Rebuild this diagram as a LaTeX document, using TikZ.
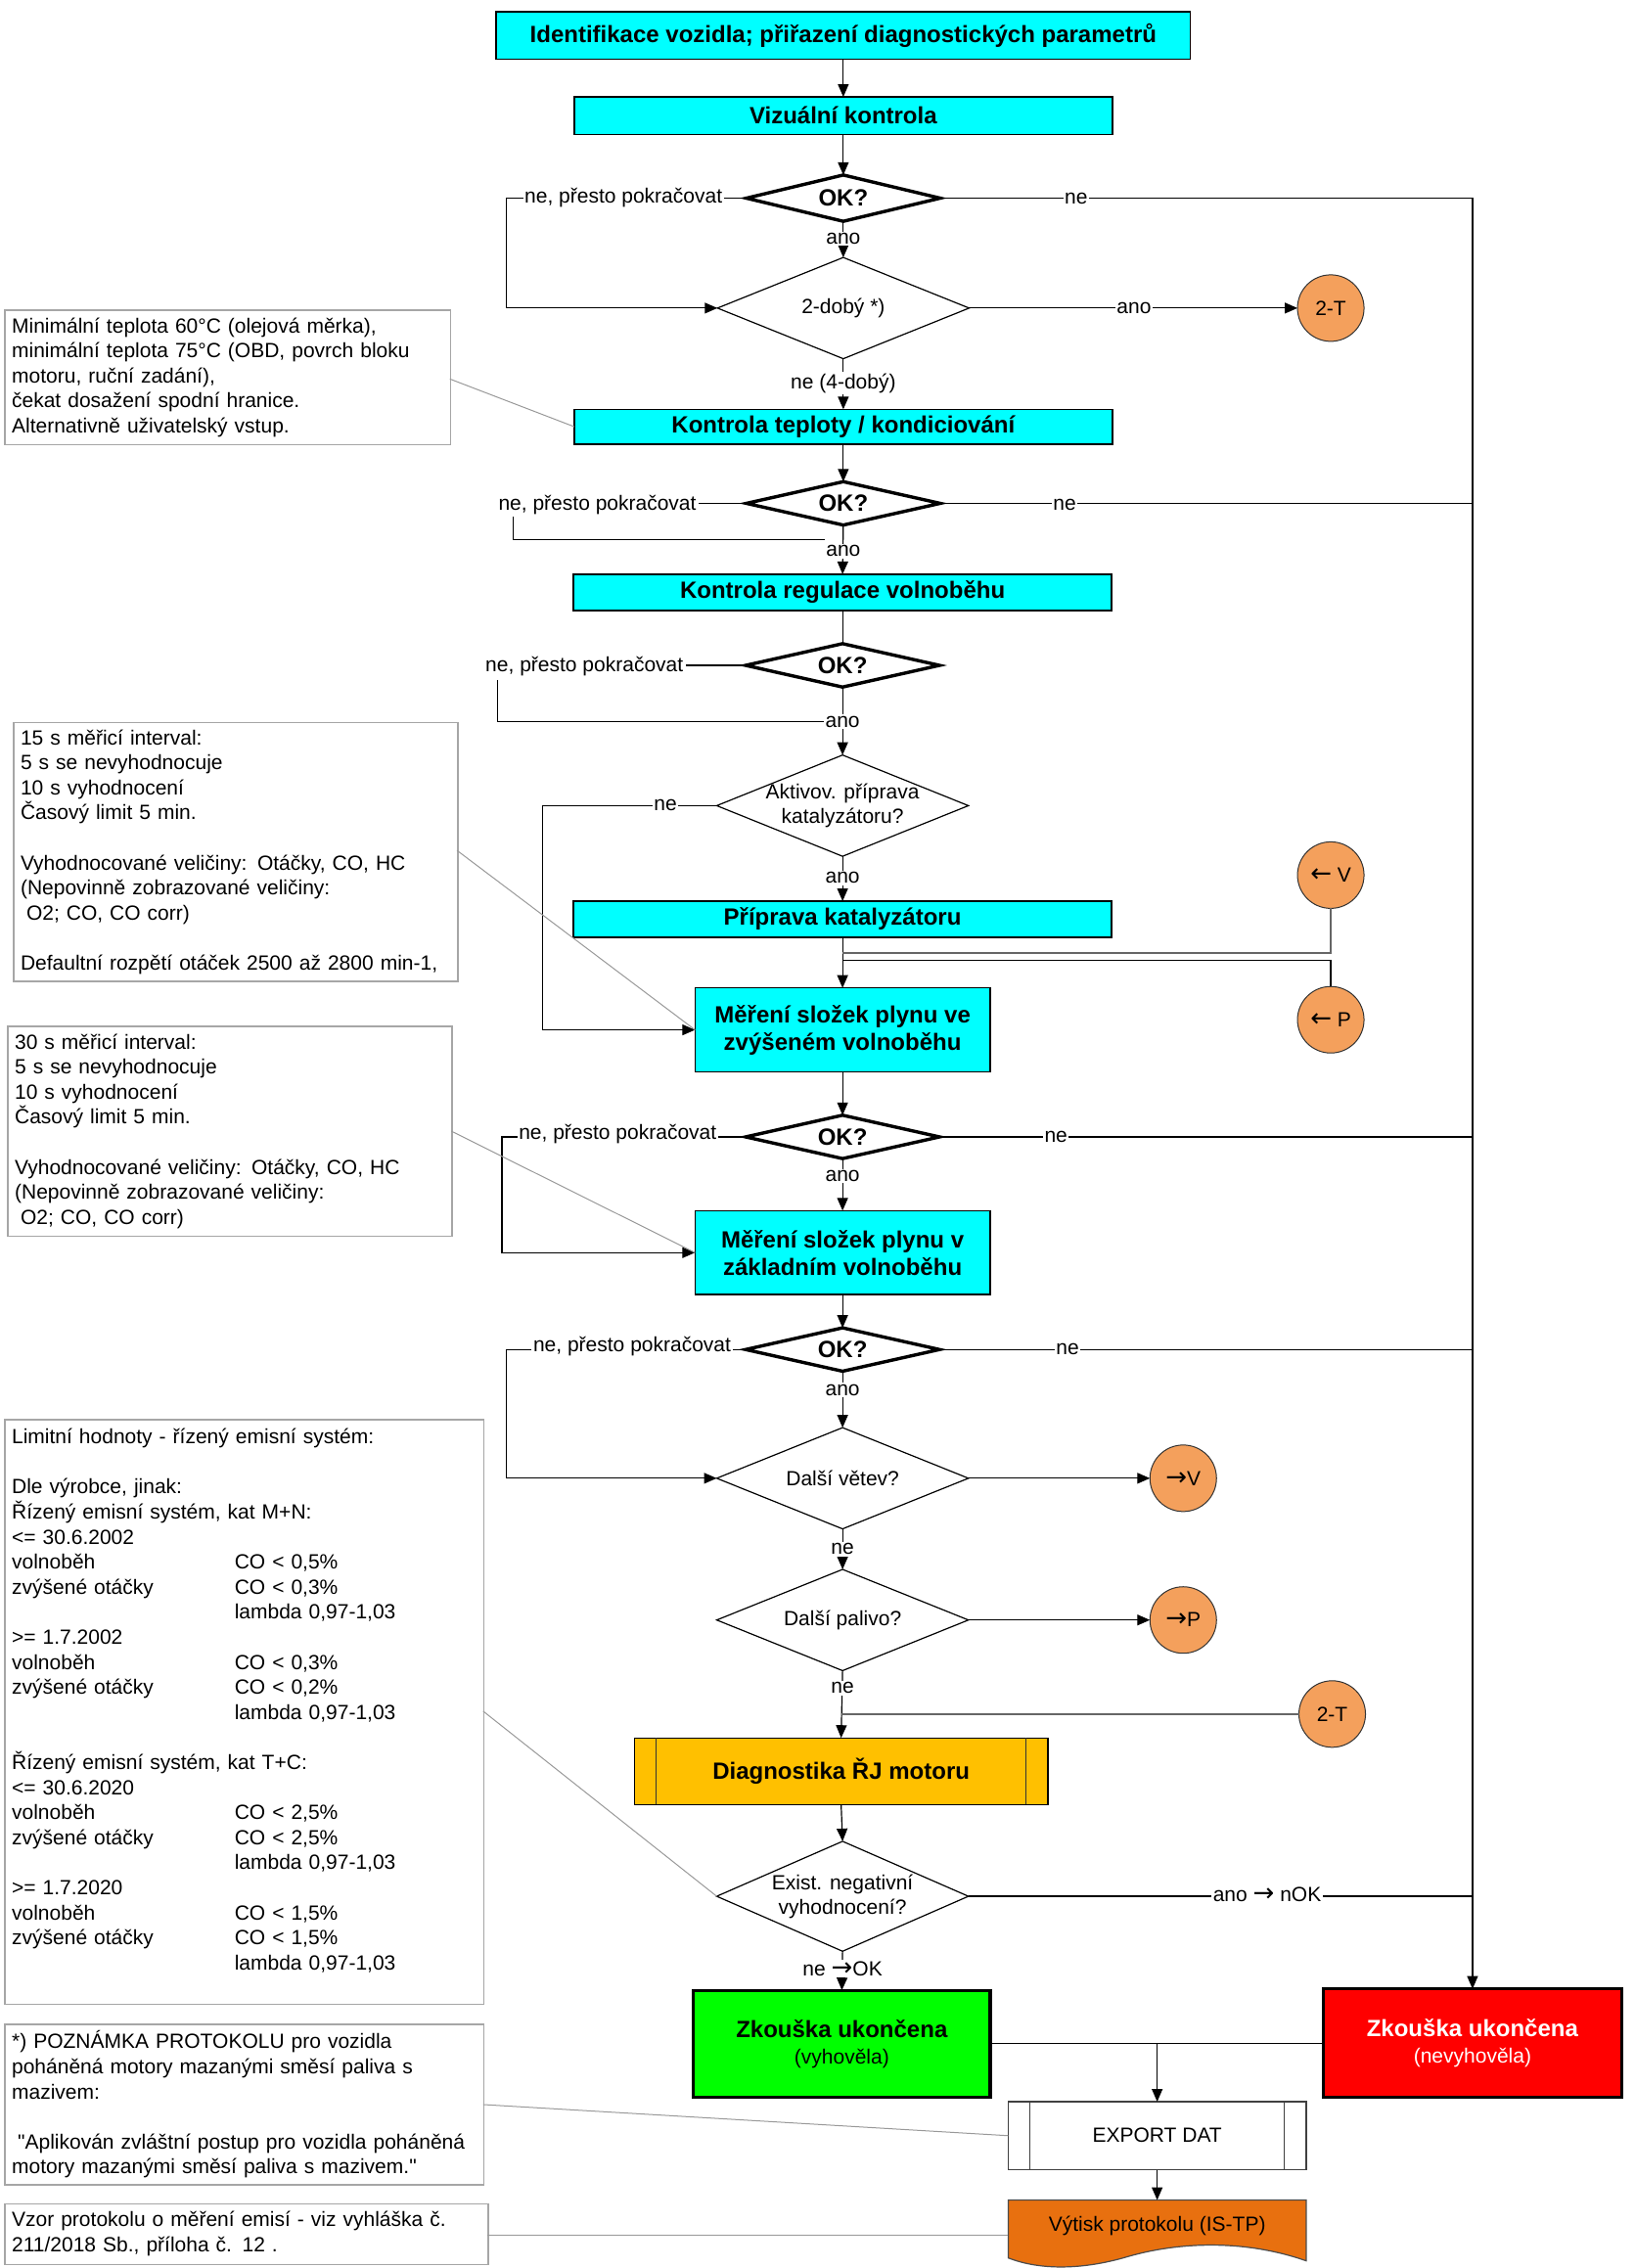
\documentclass[tikz,border=0pt]{standalone}
\usepackage{fontspec}
\setmainfont{Liberation Sans}[Ligatures=TeXOff]
\newfontfamily\arrfont{DejaVu Sans}
\newcommand{\ra}{{\arrfont\fontsize{13}{13}\selectfont →}}
\newcommand{\la}{{\arrfont\fontsize{13}{13}\selectfont ←}}
\usetikzlibrary{shapes.geometric,arrows.meta,calc}
\definecolor{cyanbox}{HTML}{00FFFF}
\definecolor{circ}{HTML}{F4A05C}
\definecolor{goldbox}{HTML}{FFC000}
\definecolor{prt}{HTML}{E8700F}
\definecolor{grbox}{HTML}{00FF00}
\definecolor{rdbox}{HTML}{FF0000}
\newcommand{\tabcol}[1]{\makebox[113.8pt][l]{#1}}
\begin{document}
\begin{tikzpicture}[x=0.739pt,y=-0.739pt,
 wh/.style 2 args={minimum width=#1*0.739pt,minimum height=#2*0.739pt},
 base/.style={inner sep=0pt,outer sep=0pt},
 proc/.style={base,rectangle,draw=black,line width=0.7pt,fill=cyanbox,font=\fontsize{12}{14}\selectfont\bfseries,align=center},
 dec/.style={base,diamond,draw=black,line width=0.6pt,fill=white},
 dtxt/.style={inner sep=0pt,align=center,font=\fontsize{10.5}{12.6}\selectfont},
 okd/.style={base,diamond,aspect=4.4,draw=black,line width=1.7pt,fill=white,font=\fontsize{12}{14}\selectfont\bfseries},
 conn/.style={base,circle,draw=black!80,line width=0.5pt,fill=circ,minimum size=46*0.739pt,font=\fontsize{10.5}{12}\selectfont},
 endbox/.style={base,rectangle,draw=black,line width=1.6pt,align=center,font=\fontsize{12}{13.5}\selectfont},
 lbl/.style={inner sep=0.8pt,fill=white,font=\fontsize{10.5}{12}\selectfont},
 note/.style 2 args={rectangle,draw=black!35,line width=0.7pt,fill=white,align=left,inner xsep=3.5pt,inner ysep=0pt,anchor=north west,text width=#1,minimum height=#2,font=\fontsize{10.5}{12.8}\selectfont},
 ln/.style={line width=0.6pt,draw=black},
 arr/.style={ln,-{Triangle[length=6.5pt,width=5.5pt]}},
 cl/.style={line width=0.5pt,draw=black!40},
]
\useasboundingbox (0,0) rectangle (1130,1568);

% ---------- main flow nodes
\node[proc,wh={480}{33}] (b1) at (583,24.5) {Identifikace vozidla; přiřazení diagnostických parametrů};
\node[proc,wh={372}{26}] (b2) at (583,80) {Vizuální kontrola};
\node[okd,wh={134}{32}] (d1) at (583,137) {OK?};
\node[dec,wh={174}{70},label={[dtxt]center:{2-dobý *)}}] (d2) at (583,213) {};
\node[conn] (c1) at (920,213) {2-T};
\node[proc,wh={372}{24}] (b3) at (583,295) {Kontrola teploty / kondiciování};
\node[okd,wh={134}{30}] (d3) at (583,348) {OK?};
\node[proc,wh={372}{25}] (b4) at (582.5,409.5) {Kontrola regulace volnoběhu};
\node[okd,wh={134}{30}] (d4) at (582.5,460) {OK?};
\node[dec,wh={174}{70},label={[dtxt]center:{Aktivov. příprava\\katalyzátoru?}}] (d5) at (582.5,557) {};
\node[proc,wh={372}{25}] (b5) at (582.5,635.5) {Příprava katalyzátoru};
\node[conn] (cV) at (920,605) {\la{} V};
\node[conn] (cP) at (920,705) {\la{} P};
\node[proc,wh={204}{58}] (b6) at (582.5,712) {Měření složek plynu ve\\zvýšeném volnoběhu};
\node[okd,wh={134}{30}] (d6) at (582.5,786) {OK?};
\node[proc,wh={204}{58}] (b7) at (582.5,866) {Měření složek plynu v\\základním volnoběhu};
\node[okd,wh={134}{30}] (d7) at (582.5,933) {OK?};
\node[dec,wh={174}{70},label={[dtxt]center:{Další větev?}}] (d8) at (582.5,1022) {};
\node[conn] (cV2) at (818,1022) {\ra V};
\node[dec,wh={174}{70},label={[dtxt]center:{Další palivo?}}] (d9) at (582.5,1120) {};
\node[conn] (cP2) at (818,1120) {\ra P};
\node[conn] (cT2) at (921,1185) {2-T};
\node[proc,fill=goldbox,wh={286}{46}] (b8) at (581.5,1224.5) {Diagnostika ŘJ motoru};
\draw[ln,black!80] ($(b8.north west)+(15,0)$) -- ($(b8.south west)+(15,0)$);
\draw[ln,black!80] ($(b8.north east)+(-15,0)$) -- ($(b8.south east)+(-15,0)$);
\node[dec,wh={174}{76},label={[dtxt]center:{Exist. negativní\\vyhodnocení?}}] (d10) at (582.5,1311) {};
\node[endbox,fill=grbox,wh={205}{74}] (g) at (582,1413) {\textbf{Zkouška ukončena}\\{\fontsize{10.5}{12}\selectfont (vyhověla)}};
\node[endbox,fill=rdbox,text=white,wh={206}{75}] (r) at (1018,1412.5) {\textbf{Zkouška ukončena}\\{\fontsize{10.5}{12}\selectfont (nevyhověla)}};
\node[base,rectangle,draw=black!75,line width=0.6pt,fill=white,wh={206}{47},font=\fontsize{10.5}{12}\selectfont] (ex) at (800,1476.5) {EXPORT DAT};
\draw[ln,black!75] ($(ex.north west)+(15,0)$) -- ($(ex.south west)+(15,0)$);
\draw[ln,black!75] ($(ex.north east)+(-15,0)$) -- ($(ex.south east)+(-15,0)$);
% document shape
\draw[line width=0.6pt,draw=black!70,fill=prt] (697,1521) -- (903,1521) -- (903,1563)
  .. controls (860,1548) and (815,1550) .. (780,1560)
  .. controls (750,1569) and (720,1570) .. (697,1561) -- cycle;
\node[base,wh={206}{36},font=\fontsize{10.5}{12}\selectfont] (pr) at (800,1539) {Výtisk protokolu (IS-TP)};

% ---------- notes
\node[note={220.6pt}{68.7pt}] (n1) at (3,214) {Minimální teplota 60°C (olejová měrka),\\minimální teplota 75°C (OBD, povrch bloku\\motoru, ruční zadání),\\čekat dosažení spodní hranice.\\Alternativně uživatelský vstup.};
\node[note={219.9pt}{132.3pt}] (n2) at (9,499) {15 s měřicí interval:\\5 s se nevyhodnocuje\\10 s vyhodnocení\\Časový limit 5 min.\\\mbox{}\\Vyhodnocované veličiny: Otáčky, CO, HC\\(Nepovinně zobrazované veličiny:\\\hspace*{3pt}O2; CO, CO corr)\\\mbox{}\\Defaultní rozpětí otáček 2500 až 2800 min-1,};
\node[note={219.9pt}{107.2pt}] (n3) at (5,709) {30 s měřicí interval:\\5 s se nevyhodnocuje\\10 s vyhodnocení\\Časový limit 5 min.\\\mbox{}\\Vyhodnocované veličiny: Otáčky, CO, HC\\(Nepovinně zobrazované veličiny:\\\hspace*{3pt}O2; CO, CO corr)};
\node[note={237.6pt}{298.6pt}] (n4) at (3,981) {Limitní hodnoty - řízený emisní systém:\\\mbox{}\\Dle výrobce, jinak:\\Řízený emisní systém, kat M+N:\\<= 30.6.2002\\\tabcol{volnoběh}CO < 0,5\%\\\tabcol{zvýšené otáčky}CO < 0,3\%\\\tabcol{}lambda 0,97-1,03\\>= 1.7.2002\\\tabcol{volnoběh}CO < 0,3\%\\\tabcol{zvýšené otáčky}CO < 0,2\%\\\tabcol{}lambda 0,97-1,03\\\mbox{}\\Řízený emisní systém, kat T+C:\\<= 30.6.2020\\\tabcol{volnoběh}CO < 2,5\%\\\tabcol{zvýšené otáčky}CO < 2,5\%\\\tabcol{}lambda 0,97-1,03\\>= 1.7.2020\\\tabcol{volnoběh}CO < 1,5\%\\\tabcol{zvýšené otáčky}CO < 1,5\%\\\tabcol{}lambda 0,97-1,03\\\mbox{}};
\node[note={237.6pt}{82pt}] (n5) at (3,1399) {*) POZNÁMKA PROTOKOLU pro vozidla\\poháněná motory mazanými směsí paliva s\\mazivem:\\\mbox{}\\\hspace*{3pt}"Aplikován zvláštní postup pro vozidla poháněná\\motory mazanými směsí paliva s mazivem."};
\node[note={239.8pt}{31pt}] (n6) at (3,1523) {Vzor protokolu o měření emisí - viz vyhláška č.\\211/2018 Sb., příloha č. 12 .};

% ---------- connectors
\draw[arr] (b1.south) -- (b2.north);
\draw[arr] (b2.south) -- (d1.north);
\draw[arr] (d1.south) -- (d2.north);
\coordinate (k1) at (350,137);
\draw[arr] (d1.west) -- (k1) |- (d2.west);
\draw[arr] (d1.east) -| (r.north);
\draw[arr] (d2.east) -- (c1.west);
\draw[arr] (d2.south) -- (b3.north);
\draw[arr] (b3.south) -- (d3.north);
\coordinate (k3) at (483,348);
\draw[ln] (d3.west) -- (k3);
\coordinate (k3a) at (355,357);
\coordinate (k3b) at (570,373);
\draw[ln] (k3a) |- (k3b);
\draw[ln] (d3.east) -- (d3.east -| r.north);
\draw[arr] (d3.south) -- (b4.north);
\draw[ln] (b4.south) -- (d4.north);
\coordinate (k4) at (474,460);
\draw[ln] (d4.west) -- (k4);
\coordinate (k4a) at (344,470);
\coordinate (k4b) at (570,499);
\draw[ln] (k4a) |- (k4b);
\draw[arr] (d4.south) -- (d5.north);
\coordinate (k5) at (375,557);
\draw[arr] (d5.west) -- (k5) |- (b6.west);
\draw[arr] (d5.south) -- (b5.north);
\draw[arr] (b5.south) -- (b6.north);
\coordinate (jV) at (582.5,659);
\draw[ln,draw=black!60,line width=0.9pt] (cV.south) |- (jV);
\coordinate (jP) at (582.5,664);
\draw[ln] (cP.north) |- (jP);
\draw[arr] (b6.south) -- (d6.north);
\coordinate (k6) at (347,786);
\draw[arr] (d6.west) -- (k6) |- (b7.west);
\draw[ln] (d6.east) -- (d6.east -| r.north);
\draw[arr] (d6.south) -- (b7.north);
\draw[arr] (b7.south) -- (d7.north);
\coordinate (k7) at (350,933);
\draw[arr] (d7.west) -- (k7) |- (d8.west);
\draw[ln] (d7.east) -- (d7.east -| r.north);
\draw[arr] (d7.south) -- (d8.north);
\draw[arr] (d8.east) -- (cV2.west);
\draw[arr] (d8.south) -- (d9.north);
\draw[arr] (d9.east) -- (cP2.west);
\draw[arr] (d9.south) -- (b8.north);
\draw[ln,draw=black!60,line width=0.9pt] (cT2.west) -- (cT2.west -| b8.north);
\draw[arr] (b8.south) -- (d10.north);
\draw[ln] (d10.east) -- (d10.east -| r.north);
\draw[arr] (d10.south) -- (g.north);
\draw[ln] (g.east) -- (g.east -| ex.north);
\draw[arr] (r.west) -| (ex.north);
\draw[arr] (ex.south) -- (pr.north);

% note connectors
\coordinate (m1) at (311,262);
\draw[cl] (m1) -- (b3.west);
\coordinate (m2) at (316,588);
\draw[cl] (m2) -- (b6.west);
\coordinate (m3) at (312,782);
\draw[cl] (m3) -- (b7.west);
\coordinate (m4) at (334,1183);
\draw[cl] (m4) -- (d10.west);
\coordinate (m5) at (334,1455);
\draw[cl] (m5) -- (ex.west);
\coordinate (m6) at (337,1545);
\coordinate (m6b) at (697,1545);
\draw[cl] (m6) -- (m6b);

% ---------- labels
\node[lbl] (a1) at (583,165) {ano};
\node[lbl] (a2) at (784,213) {ano};
\node[lbl] (a3) at (583,265) {ne (4-dobý)};
\node[lbl] (l1) at (431,137) {ne, přesto pokračovat};
\node[lbl] (r1) at (744,137) {ne};
\node[lbl] (l3) at (413,349) {ne, přesto pokračovat};
\node[lbl] (r3) at (736,349) {ne};
\node[lbl] (a4) at (583,381) {ano};
\node[lbl] (l4) at (404,461) {ne, přesto pokračovat};
\node[lbl] (a5) at (582.5,499) {ano};
\node[lbl] (n5l) at (460,557) {ne};
\node[lbl] (a6) at (582.5,607) {ano};
\node[lbl] (l6) at (427,784) {ne, přesto pokračovat};
\node[lbl] (r6) at (730,786) {ne};
\node[lbl] (a7) at (582.5,813) {ano};
\node[lbl] (l7) at (437,931) {ne, přesto pokračovat};
\node[lbl] (r7) at (738,933) {ne};
\node[lbl] (a8) at (582.5,961) {ano};
\node[lbl] (a9) at (582.5,1071) {ne};
\node[lbl] (a10) at (582.5,1167) {ne};
\node[lbl] (r10) at (876,1310) {ano \ra{} nOK};
\node[lbl] (a11) at (582.5,1361) {ne \ra OK};
\end{tikzpicture}
\end{document}
